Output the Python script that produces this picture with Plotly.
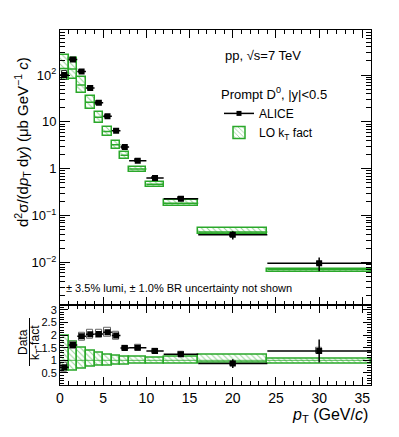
import numpy as np
import plotly.graph_objects as go
from plotly.subplots import make_subplots

# pT bins (GeV/c)
bin_lo = [0, 1, 2, 3, 4, 5, 6, 7, 8, 10, 12, 16, 24]
bin_hi = [1, 2, 3, 4, 5, 6, 7, 8, 10, 12, 16, 24, 36]

# ALICE prompt D0 cross section (ub GeV^-1 c)
alice = [100, 215, 119, 53, 25.5, 13.2, 6.5, 2.9, 1.48, 0.64, 0.23, 0.039, 0.0097]
alice_stat = [0.12, 0.06, 0.04, 0.04, 0.04, 0.04, 0.05, 0.05, 0.05, 0.07, 0.08, 0.20, 0.33]
alice_syst = [0.23, 0.09, 0.08, 0.08, 0.08, 0.08, 0.08, 0.07, 0.07, 0.07, 0.07, 0.08, 0.08]

# LO kT-factorisation prediction: central value and relative band
model = [137, 134, 61, 26.1, 12.5, 6.26, 3.27, 1.95, 0.99, 0.467, 0.185, 0.0448, 0.00708]
model_lo = [0.57, 0.60, 0.67, 0.73, 0.77, 0.80, 0.82, 0.84, 0.85, 0.87, 0.87, 0.92, 0.88]
model_hi = [1.96, 1.73, 1.49, 1.37, 1.29, 1.24, 1.20, 1.16, 1.13, 1.12, 1.16, 1.23, 1.05]

FONT = "Liberation Sans, Arial, sans-serif"
GREEN = "#2aa82a"

# the page body keeps an 8px margin, so the figure is drawn 8px smaller
# and all positions below are given in page pixels of the 399x437 window
OFF = 8
PX0, PX1, PY0, PY1 = 60, 371, 30, 385   # plot area in page pixels


def px(x):
    return (x - PX0) / (PX1 - PX0)


def py(y):
    return (PY1 - y) / (PY1 - PY0)


lo = np.array(bin_lo, float)
hi = np.array(bin_hi, float)
xc = (lo + hi) / 2
xw = hi - lo
d = np.array(alice)
m = np.array(model)
mlo = np.array(model_lo)
mhi = np.array(model_hi)
syst = np.array(alice_syst)
stat = np.array(alice_stat)
ratio = d / m

fig = make_subplots(rows=2, cols=1, row_heights=[0.774, 0.226], vertical_spacing=0)

hatch = dict(shape="\\", fgcolor=GREEN, bgcolor="white", size=4, solidity=0.25)


def seg(xs0, xs1, ys):
    xx, yy = [], []
    for a, b, c in zip(xs0, xs1, ys):
        xx += [a, b, None]
        yy += [c, c, None]
    return xx, yy


# ---- upper panel
fig.add_trace(go.Bar(x=xc, y=m * (mhi - mlo), base=m * mlo, width=xw,
                     marker=dict(pattern=hatch, line=dict(color=GREEN, width=1.5)),
                     name="LO k<sub>T</sub> fact", legendrank=2, showlegend=True),
              row=1, col=1)
sx, sy = seg(lo, hi, m)
fig.add_trace(go.Scatter(x=sx, y=sy, mode="lines", line=dict(color=GREEN, width=1.5),
                         showlegend=False, hoverinfo="skip"), row=1, col=1)
fig.add_trace(go.Bar(x=xc, y=2 * d * syst, base=d * (1 - syst), width=0.6,
                     marker=dict(color="rgba(0,0,0,0)", line=dict(color="#333", width=1)),
                     showlegend=False), row=1, col=1)
fig.add_trace(go.Scatter(x=xc, y=d, mode="markers",
                         marker=dict(symbol="square", size=6, color="black"),
                         error_x=dict(type="data", array=xw / 2, width=0, thickness=1.5, color="black"),
                         error_y=dict(type="data", array=d * stat, width=0, thickness=1.5,
                                      color="black"),
                         showlegend=False), row=1, col=1)
# legend proxy for ALICE (line + marker)
fig.add_trace(go.Scatter(x=[None], y=[None], mode="lines+markers", name="ALICE",
                         marker=dict(symbol="square", size=5, color="black"),
                         line=dict(color="black", width=1.5), legendrank=1), row=1, col=1)

# ---- lower panel
fig.add_trace(go.Bar(x=xc, y=mhi - mlo, base=mlo, width=xw,
                     marker=dict(pattern=hatch, line=dict(color=GREEN, width=1.5)),
                     showlegend=False), row=2, col=1)
sx, sy = seg(lo, hi, np.ones(len(lo)))
fig.add_trace(go.Scatter(x=sx, y=sy, mode="lines", line=dict(color=GREEN, width=0.8),
                         showlegend=False, hoverinfo="skip"), row=2, col=1)
fig.add_trace(go.Bar(x=xc, y=2 * ratio * syst, base=ratio * (1 - syst), width=0.7,
                     marker=dict(color="rgba(0,0,0,0)", line=dict(color="#666", width=1)),
                     showlegend=False), row=2, col=1)
fig.add_trace(go.Scatter(x=xc, y=ratio, mode="markers",
                         marker=dict(symbol="square", size=6, color="black"),
                         error_x=dict(type="data", array=xw / 2, width=0, thickness=1.5, color="black"),
                         error_y=dict(type="data", array=ratio * stat, width=0, thickness=1.5,
                                      color="black"),
                         showlegend=False), row=2, col=1)

axis_common = dict(showline=True, linecolor="black", linewidth=1, mirror="allticks",
                   ticks="inside", tickcolor="black", showgrid=False, zeroline=False)

fig.update_xaxes(**axis_common, range=[0, 36], dtick=5, tick0=0, ticklen=8,
                 minor=dict(ticks="inside", dtick=1, ticklen=4, tickcolor="black", showgrid=False))
fig.update_xaxes(showticklabels=False, row=1, col=1)
fig.update_xaxes(tickfont=dict(family=FONT, size=14, color="black"), row=2, col=1)

fig.update_yaxes(**axis_common, type="log", range=[-2.9, 2.96], row=1, col=1,
                 tickvals=[0.01, 0.1, 1, 10, 100],
                 ticktext=["10<sup>−2</sup>", "10<sup>−1</sup>", "1", "10", "10<sup>2</sup>"],
                 ticklen=10, tickfont=dict(family=FONT, size=13, color="black"),
                 minor=dict(ticks="inside", ticklen=5, tickcolor="black", dtick="D1", showgrid=False))
fig.update_yaxes(**axis_common, range=[0.024, 3.2], row=2, col=1, dtick=0.5, tick0=0,
                 ticklen=8, tickfont=dict(family=FONT, size=11, color="black"),
                 minor=dict(ticks="inside", dtick=0.1, ticklen=4, tickcolor="black", showgrid=False))


def note(text, x, y, size, angle=0, xanchor="center"):
    return dict(text=text, xref="paper", yref="paper", x=px(x), y=py(y),
                xanchor=xanchor, yanchor="middle", textangle=angle, showarrow=False,
                font=dict(family=FONT, size=size, color="black"))


ann = [
    note("pp, √s=7 TeV", 223, 55, 13, xanchor="left"),
    note("± 3.5% lumi, ± 1.0% BR uncertainty not shown", 64, 288, 11, xanchor="left"),
    note("d<sup>2</sup>σ/(d<i>p</i><sub>T</sub> d<i>y</i>) (μb GeV<sup>−1</sup> <i>c</i>)",
         22, 142, 15, angle=-90),
    note("Data", 23, 342, 12, angle=-90),
    note("k<sub>T</sub>-fact", 36, 342, 12, angle=-90),
    note("<i>p</i><sub>T</sub> (GeV/<i>c</i>)", 370, 416, 16, xanchor="right"),
]

fig.update_layout(
    width=399 - OFF, height=437 - OFF,
    margin=dict(l=PX0 - OFF, r=399 - PX1, t=PY0 - OFF, b=437 - PY1),
    paper_bgcolor="white", plot_bgcolor="white",
    barmode="overlay", bargap=0,
    annotations=ann,
    shapes=[dict(type="line", xref="paper", yref="paper",
                 x0=px(29.5), x1=px(29.5), y0=py(318), y1=py(366),
                 line=dict(color="black", width=1))],
    legend=dict(x=px(219), y=py(82), xanchor="left", yanchor="top",
                bgcolor="rgba(0,0,0,0)", traceorder="normal",
                title=dict(text="Prompt D<sup>0</sup>, |y|<0.5",
                           font=dict(family=FONT, size=13, color="black")),
                font=dict(family=FONT, size=12, color="black")),
    showlegend=True,
)

fig.write_html("out.html")
